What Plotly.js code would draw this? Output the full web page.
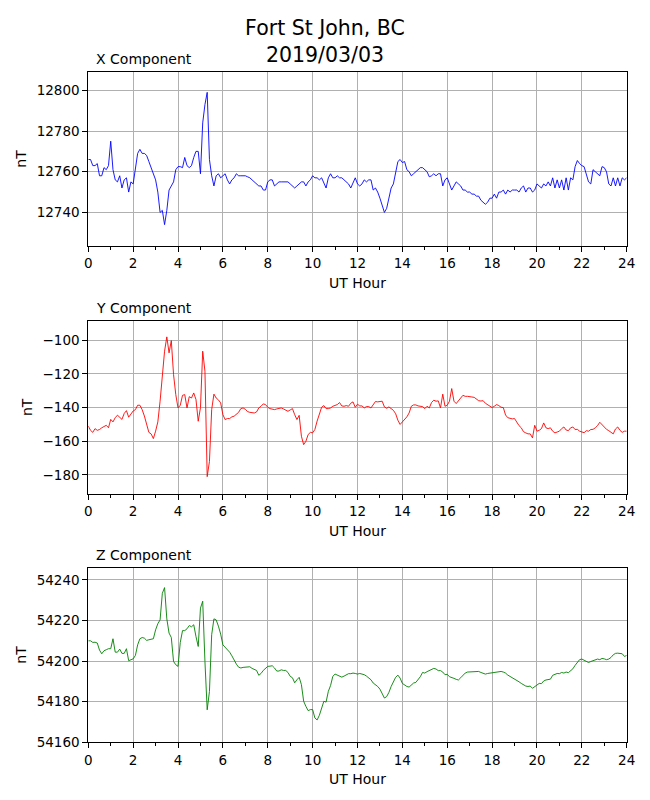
<!DOCTYPE html>
<html>
<head>
<meta charset="utf-8">
<script src="https://cdn.plot.ly/plotly-3.0.1.min.js"></script>
<style>
  body { margin: 0; background: #fff; }
  #chart { width: 650px; height: 800px; }
</style>
</head>
<body>
<div id="chart"></div>
<script>
// magnetometer readings, one value every 0.1 UT hour (0.0 .. 24.0)
let x_component = [
    12766, 12766, 12763, 12763, 12764, 12758, 12758, 12762, 12761, 12763,
    12775, 12761, 12756, 12755, 12758, 12752, 12756, 12757, 12750, 12755,
    12754, 12761, 12769, 12771, 12769, 12769, 12768, 12765, 12762, 12760,
    12756, 12750, 12740, 12741, 12734, 12741, 12751, 12753, 12755, 12761,
    12762.5, 12762.5, 12762, 12767, 12763, 12762, 12763, 12767, 12770, 12770,
    12759, 12784, 12793, 12799, 12766, 12758, 12753, 12758, 12759, 12757,
    12758, 12759, 12756, 12754, 12756, 12757, 12759, 12758, 12758, 12758,
    12758, 12757.5, 12757, 12756, 12755, 12754, 12753, 12753, 12751, 12751,
    12755, 12756, 12756, 12753, 12754, 12755, 12755, 12755, 12755, 12755,
    12754, 12753, 12752, 12753, 12754, 12755, 12755, 12753, 12755, 12756,
    12758, 12757, 12757, 12756, 12757, 12754, 12752, 12757, 12759, 12757,
    12757, 12758, 12757, 12757, 12756, 12755, 12754, 12752, 12755, 12757,
    12754, 12753, 12754, 12756, 12755, 12756, 12756, 12751, 12752, 12750,
    12747, 12744, 12740, 12742, 12747, 12752, 12754, 12760, 12765, 12766,
    12764.5, 12765, 12761, 12760, 12758, 12759, 12760, 12761, 12762, 12762,
    12761, 12760, 12757.5, 12758, 12759, 12758, 12759, 12759, 12753, 12756,
    12757, 12754, 12751, 12753, 12755, 12754, 12753, 12751, 12751, 12750,
    12750, 12749, 12749, 12748, 12748, 12746, 12745, 12744, 12745, 12747,
    12747, 12749, 12747, 12750, 12750, 12751, 12749, 12751, 12750, 12751,
    12751, 12751, 12750, 12752, 12753, 12750, 12752, 12752, 12750, 12751,
    12754, 12753, 12752, 12754, 12753, 12755, 12753, 12757, 12752, 12756,
    12752, 12756, 12751, 12757, 12751, 12757, 12756, 12762.5, 12765.5, 12764,
    12763, 12762.5, 12759, 12755, 12754, 12761, 12760, 12759, 12758, 12762.5,
    12762, 12760, 12754, 12753, 12757, 12753, 12757, 12753, 12757, 12756,
    12757
];

let y_component = [
    -151, -153.5, -154.7, -152.5, -153.5, -153, -152, -151, -150.5, -152,
    -147, -148.5, -146, -144.5, -145.7, -147, -143.5, -141.8, -145.7, -144,
    -142, -141.2, -138.6, -138.6, -141.2, -145, -150.5, -154.7, -155.6, -158.4,
    -154, -148.5, -136.2, -118.4, -106.5, -98, -107.5, -100.2, -120.4, -132.3,
    -140.2, -138.6, -132.7, -132.3, -140.2, -133.5, -134.3, -131.3, -135.2, -148.1,
    -140, -106.5, -118.4, -181, -172, -141.2, -132, -134.3, -135.4, -137.2,
    -144.2, -147.1, -146.5, -146.5, -145.5, -145.1, -144.2, -142.8, -140.6, -140.2,
    -141, -142.4, -142.8, -143, -143.2, -142.6, -140.2, -139.2, -137.8, -138.2,
    -139.8, -140.6, -141, -141.2, -140.8, -140.6, -140.2, -140.8, -141.6, -142.2,
    -141.4, -140.6, -144.2, -147.1, -144.6, -157, -162, -160, -156, -154.7,
    -155, -153, -148, -144.2, -139.8, -138.8, -140.6, -140.6, -140.2, -139.2,
    -138.6, -138.2, -137, -139, -139.2, -138.8, -139.2, -137.4, -136.6, -139.8,
    -138, -139, -139, -140.2, -139.4, -139.4, -140.2, -138.2, -136.4, -136.6,
    -136.2, -136.2, -139.6, -140.4, -139.6, -140.8, -141.6, -143.6, -147.5, -150,
    -148.5, -146.7, -145.5, -143.2, -139.2, -138.4, -138.4, -139, -139, -139.4,
    -140.6, -139.2, -140.2, -137, -135.6, -136.2, -136, -140.2, -132, -139.2,
    -138.6, -136.2, -128.7, -136.2, -137.6, -136.2, -134.3, -132.7, -133.3, -133.3,
    -133.3, -133.7, -133.9, -134.9, -135.9, -136.1, -135.9, -137.4, -138.4, -139.4,
    -140, -139.2, -138.2, -138.8, -139.8, -140, -144.4, -146, -146.3, -146.7,
    -146.5, -148.7, -150.7, -152, -154.3, -155, -155.6, -155.6, -158, -150.5,
    -154, -153.5, -152.5, -149.1, -152, -152.5, -152, -154, -155, -154.5,
    -154, -152.5, -151.5, -153.3, -153.7, -152, -151.5, -153, -152.9, -154,
    -154.5, -154.9, -153.7, -154, -153, -152.9, -152, -150.7, -148.7, -150.1,
    -151.7, -152.9, -153.7, -154.9, -155.6, -152.7, -151.5, -153.5, -154.7, -154,
    -154
];

let z_component = [
    54210, 54210, 54209.2, 54209.3, 54208.9, 54205.4, 54203.6, 54205.1, 54205.6, 54206.1,
    54206.1, 54211, 54204.4, 54204.4, 54205.9, 54203.8, 54203.8, 54206.1, 54200.2, 54200.7,
    54201.1, 54202.8, 54208, 54211, 54211.6, 54211.3, 54210.2, 54210.5, 54210.8, 54211,
    54215.4, 54218.4, 54220.3, 54233.4, 54236.2, 54220.8, 54213.8, 54211.6, 54199.8, 54198.2,
    54197.4, 54209.2, 54215, 54215, 54215.9, 54217.5, 54216.9, 54217.9, 54212.1, 54207.2,
    54226.1, 54229.5, 54199.8, 54176, 54185, 54213, 54220.8, 54220.3, 54217.2, 54213.3,
    54208, 54206.9, 54205.9, 54204.4, 54202.6, 54200.3, 54198.5, 54197, 54196.6, 54196.9,
    54197, 54196.9, 54197.2, 54196.4, 54195.7, 54195.4, 54193, 54193.9, 54195.4, 54196.2,
    54197.4, 54197.5, 54197.7, 54196.6, 54195.1, 54195.1, 54195.7, 54195.4, 54195.4, 54194.4,
    54192.5, 54191.8, 54189.3, 54190.8, 54192, 54188.4, 54180.2, 54177.7, 54175.6, 54176.1,
    54176.1, 54172, 54171, 54173.3, 54176.6, 54180.2, 54179.8, 54185.1, 54188, 54192.5,
    54193.6, 54193.1, 54192.6, 54192.1, 54192.6, 54193.4, 54193.8, 54193.8, 54194.1, 54193.9,
    54193.6, 54193.9, 54193.6, 54193.3, 54192.6, 54191.6, 54190.8, 54189.2, 54188.4, 54187.5,
    54186.2, 54183.8, 54181.8, 54182.5, 54184.6, 54187.5, 54190, 54192, 54193.1, 54191.6,
    54189, 54188.2, 54187.5, 54187.2, 54188.2, 54189.2, 54189.5, 54190.7, 54192.3, 54194.4,
    54194.1, 54194.8, 54195.4, 54196.2, 54196.4, 54196.1, 54195.3, 54195.3, 54194.6, 54193.3,
    54193.5, 54192.3, 54192, 54191.5, 54191, 54190.7, 54191.8, 54193.1, 54194.1, 54194.6,
    54194.6, 54194.6, 54194.9, 54194.9, 54194.9, 54194.4, 54194.1, 54193.6, 54193.9, 54194.1,
    54194.1, 54194.4, 54194.6, 54194.9, 54194.9, 54194.6, 54194.1, 54193.1, 54192.5, 54191.8,
    54191.3, 54190.7, 54189.8, 54189, 54188.2, 54187.7, 54187.5, 54187.7, 54186.6, 54187.5,
    54188.5, 54189, 54188.9, 54190.2, 54190.7, 54191, 54191.1, 54193, 54193.3, 54193.9,
    54193.8, 54194.4, 54194.1, 54194.6, 54194.3, 54195.4, 54196.2, 54197.9, 54199.5, 54200.7,
    54201, 54200.3, 54199.8, 54199.3, 54199.8, 54200.2, 54200.7, 54201, 54200.7, 54201.3,
    54201.1, 54200.7, 54201, 54201.8, 54203.1, 54203.8, 54203.9, 54203.6, 54203.6, 54202.3,
    54202.8
];

let panel_titles = ["X Component", "Y Component", "Z Component"];
let line_colors = ["blue", "red", "green"];
let y_ranges = [[12723.5, 12809], [-191.3, -88.4], [54160, 54246]];

// sample times in UT hours
let ut_hours = x_component.map(function (v, i) { return i / 10; });

let font_family = "DejaVu Sans, Arial, sans-serif";
let grid_color = "#b0b0b0";

// pixel boxes of the three panels (top, bottom) in a 800px tall figure
let panel_boxes = [[72, 246], [320.7, 494], [567.7, 742.3]];
let left_px = 88.3, right_px = 626.7;

let series = [x_component, y_component, z_component];
let data = [];
let layout = {
    width: 650,
    height: 800,
    margin: {l: 0, r: 0, t: 0, b: 0},
    paper_bgcolor: "white",
    plot_bgcolor: "white",
    showlegend: false,
    font: {family: font_family, size: 13.5, color: "black"},
    title: {
        text: "Fort St John, BC<br>2019/03/03",
        font: {family: font_family, size: 20.5, color: "black"},
        x: 0.5, xanchor: "center",
        xref: "paper",
        y: 1 - 35 / 800, yanchor: "top", yref: "container"
    },
    annotations: []
};

for (var i = 0; i < 3; ++i) {
    var n = i === 0 ? "" : String(i + 1);
    data.push({
        type: "scatter",
        mode: "lines",
        x: ut_hours,
        y: series[i],
        xaxis: "x" + n,
        yaxis: "y" + n,
        line: {color: line_colors[i], width: 0.9},
        hoverinfo: "skip"
    });

    var box_top = panel_boxes[i][0], box_bottom = panel_boxes[i][1];
    layout["xaxis" + n] = {
        domain: [left_px / 650, right_px / 650],
        anchor: "y" + n,
        range: [0, 24],
        dtick: 2,
        tick0: 0,
        showgrid: true,
        gridcolor: grid_color,
        gridwidth: 1,
        zeroline: false,
        showline: true,
        linecolor: "black",
        linewidth: 1,
        mirror: true,
        ticks: "outside",
        ticklen: 5,
        tickwidth: 1,
        tickcolor: "black",
        minor: {dtick: 1, ticks: "outside", ticklen: 3, tickwidth: 1, tickcolor: "black", showgrid: false},
        title: {text: "UT Hour", font: {size: 14}, standoff: 7},
        automargin: false,
        fixedrange: true
    };
    layout["yaxis" + n] = {
        domain: [1 - box_bottom / 800, 1 - box_top / 800],
        anchor: "x" + n,
        range: y_ranges[i],
        dtick: 20,
        tickformat: "d",
        showgrid: true,
        gridcolor: grid_color,
        gridwidth: 1,
        zeroline: false,
        showline: true,
        linecolor: "black",
        linewidth: 1,
        mirror: true,
        ticks: "outside",
        ticklen: 5,
        tickwidth: 1,
        tickcolor: "black",
        title: {text: "nT", font: {size: 14}, standoff: 6},
        automargin: false,
        fixedrange: true
    };
    layout.annotations.push({
        text: panel_titles[i],
        xref: "paper", yref: "paper",
        x: 94 / 650, xanchor: "left",
        y: 1 - box_top / 800, yanchor: "bottom",
        yshift: 3,
        showarrow: false,
        font: {family: font_family, size: 14, color: "black"}
    });
}

Plotly.newPlot("chart", data, layout, {staticPlot: true, displayModeBar: false});
</script>
</body>
</html>
